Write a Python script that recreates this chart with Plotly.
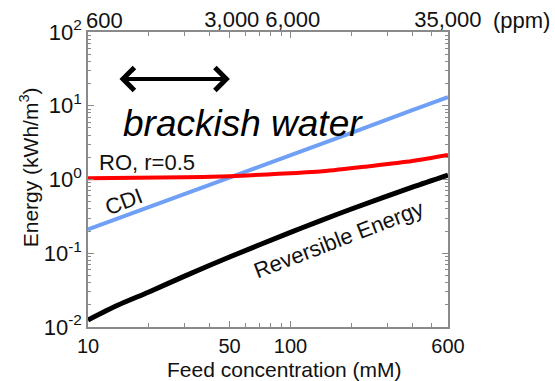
import math
import plotly.graph_objects as go

# ---- data ----
conc_cdi = [10, 20, 50, 100, 200, 400, 600]
energy_cdi = [0.21, 0.42, 1.06, 2.13, 4.3, 8.7, 13.1]

conc_ro = [10, 30, 50, 77, 100, 140, 233, 400, 600]
energy_ro = [1.04, 1.07, 1.11, 1.17, 1.22, 1.28, 1.49, 1.78, 2.15]

conc_rev = [10, 14, 20, 30, 50, 100, 140, 200, 400, 600]
energy_rev = [0.01245, 0.0197, 0.0299, 0.0489, 0.0889, 0.192, 0.275, 0.398, 0.789, 1.15]

x_tickvals = [10, 50, 100, 600]
x_ticktext = ["10", "50", "100", "600"]
y_tickvals = [0.01, 0.1, 1, 10, 100]
y_ticktext = ["10<sup>-2</sup>", "10<sup>-1</sup>", "10<sup>0</sup>", "10<sup>1</sup>", "10<sup>2</sup>"]
ppm_tickvals = [600, 3000, 6000, 35000]
ppm_ticktext = ["600", "3,000", "6,000", "35,000"]
MM_TO_PPM = 58.44  # NaCl g/mol

FONT = "Liberation Sans, Arial, sans-serif"
AXCOL = "#8a8a8a"
TXT = "#111111"

fig = go.Figure()
fig.add_trace(go.Scatter(x=conc_cdi, y=energy_cdi, mode="lines",
                         line=dict(color="#6fa0f5", width=4), showlegend=False))
fig.add_trace(go.Scatter(x=conc_ro, y=energy_ro, mode="lines", line_shape="spline",
                         line=dict(color="#ff0000", width=4, smoothing=0.8), showlegend=False))
fig.add_trace(go.Scatter(x=conc_rev, y=energy_rev, mode="lines", line_shape="spline",
                         line=dict(color="#000000", width=5, smoothing=0.8), showlegend=False))
# invisible trace to activate the top ppm axis
fig.add_trace(go.Scatter(x=ppm_tickvals, y=[None] * len(ppm_tickvals), xaxis="x2",
                         mode="markers", opacity=0, showlegend=False, hoverinfo="skip"))

fig.update_layout(
    width=555, height=381,
    margin=dict(l=88, r=107, t=32, b=54),
    paper_bgcolor="white", plot_bgcolor="white",
    font=dict(family=FONT, size=21, color=TXT),
    xaxis=dict(type="log", range=[1, math.log10(600)], automargin=False,
               tickmode="array", tickvals=x_tickvals, ticktext=x_ticktext,
               ticks="inside", ticklen=6, tickcolor=AXCOL, tickwidth=1,
               showline=True, linecolor=AXCOL, linewidth=1.5, mirror="ticks",
               showgrid=False, zeroline=False,
               minor=dict(ticks="inside", ticklen=4, tickcolor=AXCOL, dtick="D1", showgrid=False),
               tickfont=dict(size=20)),
    # first ppm label (600) is drawn as an annotation just right of the y tick labels
    xaxis2=dict(type="log", overlaying="x", side="top", anchor="y", automargin=False,
                range=[math.log10(10 * MM_TO_PPM), math.log10(600 * MM_TO_PPM)],
                tickmode="array", tickvals=ppm_tickvals[1:], ticktext=ppm_ticktext[1:],
                ticks="", showline=False, showgrid=False, zeroline=False,
                tickfont=dict(size=22)),
    yaxis=dict(type="log", range=[-2, 2], automargin=False,
               tickmode="array", tickvals=y_tickvals, ticktext=y_ticktext,
               ticks="inside", ticklen=6, tickcolor=AXCOL, tickwidth=1,
               showline=True, linecolor=AXCOL, linewidth=1.5, mirror="ticks",
               showgrid=False, zeroline=False,
               minor=dict(ticks="inside", ticklen=3, tickcolor=AXCOL, dtick="D1", showgrid=False),
               tickfont=dict(size=22)),
)

L = math.log10
annotations = [
    dict(text=ppm_ticktext[0], xref="paper", yref="paper", x=-0.012, y=1.04,
         showarrow=False, font=dict(size=22), xanchor="left", yanchor="middle"),
    dict(text="Feed concentration (mM)", xref="paper", yref="paper", x=0.547, y=-0.143,
         showarrow=False, font=dict(size=21), xanchor="center", yanchor="middle"),
    dict(text="Energy (kWh/m<sup>3</sup>)", xref="paper", yref="paper", x=-0.165, y=0.54,
         showarrow=False, textangle=-90, font=dict(size=21), xanchor="center", yanchor="middle"),
    dict(text="(ppm)", xref="paper", yref="paper", x=1.205, y=1.04,
         showarrow=False, font=dict(size=22), xanchor="center", yanchor="middle"),
    dict(text="<i>brackish water</i>", xref="x", yref="y", x=L(58), y=0.753,
         showarrow=False, font=dict(size=37, color="black"), xanchor="center", yanchor="middle"),
    dict(text="RO, r=0.5", xref="x", yref="y", x=L(19.5), y=0.237,
         showarrow=False, font=dict(size=22), xanchor="center", yanchor="middle"),
    dict(text="CDI", xref="x", yref="y", x=L(15.1), y=-0.305, textangle=-21,
         showarrow=False, font=dict(size=22), xanchor="center", yanchor="middle"),
    dict(text="Reversible Energy", xref="x", yref="y", x=L(173), y=-0.82, textangle=-21,
         showarrow=False, font=dict(size=22), xanchor="center", yanchor="middle"),
    dict(text="", xref="x", yref="y", axref="x", ayref="y",
         x=L(50.2), y=1.363, ax=L(14.06), ay=1.363,
         showarrow=True, arrowhead=4, startarrowhead=4, arrowside="end+start",
         arrowsize=1.1, startarrowsize=1.1, arrowwidth=4, arrowcolor="black"),
]
fig.update_layout(annotations=annotations)

fig.write_html("out.html", config={"displayModeBar": False},
               post_script="document.body.style.margin='0';document.body.style.overflow='hidden';")
